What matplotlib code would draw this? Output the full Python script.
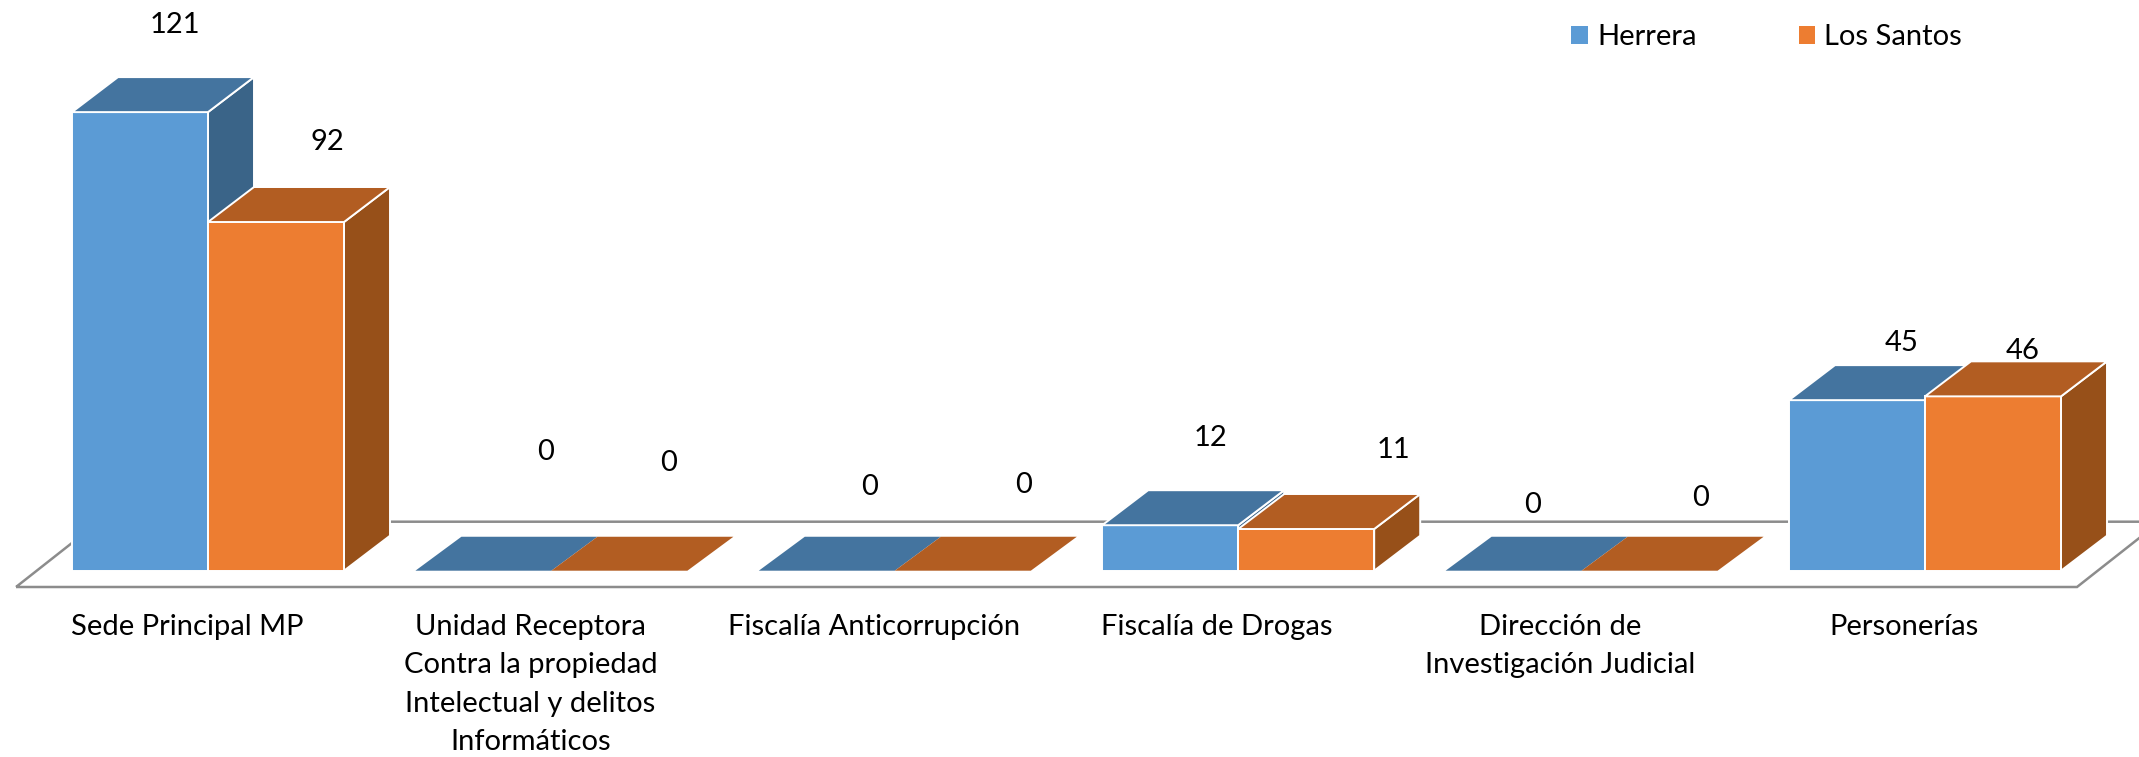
#!/usr/bin/env python3

import matplotlib
matplotlib.use('Agg')
import matplotlib.pyplot as plt
from matplotlib.patches import Patch, Polygon

categories = ['Sede Principal MP',
              'Unidad Receptora\nContra la propiedad\nIntelectual y delitos\nInformáticos',
              'Fiscalía Anticorrupción',
              'Fiscalía de Drogas',
              'Dirección de\nInvestigación Judicial',
              'Personerías']
herrera = [121, 0, 0, 12, 0, 45]
los_santos = [92, 0, 0, 11, 0, 46]

W, H = 2139, 757
STEP = 343.4        # px per category
UNIT = 3.79         # px per value unit
X0, Y0 = 208, 570.7  # px position of category 0 / value 0

bar_w = 136 / STEP
depth_x = 46 / STEP
depth_y = 35 / UNIT

plt.rcParams['font.family'] = ['Lato', 'DejaVu Sans']
FS = 21

fig = plt.figure(figsize=(W / 100, H / 100), dpi=100)
ax = fig.add_axes([0, 0, 1, 1])
ax.set_xlim(-X0 / STEP, (W - X0) / STEP)
ax.set_ylim((Y0 - H) / UNIT, Y0 / UNIT)
ax.axis('off')

# floor
fl, fr = -192 / STEP, 1869 / STEP
fb, bk = -16.3 / UNIT, 49 / UNIT
ax.add_patch(Polygon([(fl, fb), (fr, fb), (fr + 83 / STEP, bk), (fl + 83 / STEP, bk)],
                     closed=True, fill=False, edgecolor='#8c8c8c', linewidth=1.8, zorder=1))


def box(x, v, front, top, side):
    edge = dict(edgecolor='white', linewidth=1.4, joinstyle='miter')
    if v > 0:
        ax.add_patch(Polygon([(x + bar_w, 0), (x + bar_w + depth_x, depth_y),
                              (x + bar_w + depth_x, v + depth_y), (x + bar_w, v)],
                             facecolor=side, zorder=2, **edge))
        ax.add_patch(Polygon([(x, 0), (x + bar_w, 0), (x + bar_w, v), (x, v)],
                             facecolor=front, zorder=2, **edge))
        ax.add_patch(Polygon([(x, v), (x + bar_w, v), (x + bar_w + depth_x, v + depth_y),
                              (x + depth_x, v + depth_y)], facecolor=top, zorder=2, **edge))
    else:
        # zero height, only the flat top shows
        ax.add_patch(Polygon([(x, 0), (x + bar_w, 0), (x + bar_w + depth_x, depth_y * 0.97),
                              (x + depth_x, depth_y * 0.97)], facecolor=top, edgecolor='none', zorder=2))


for i in range(len(categories)):
    box(i - bar_w, herrera[i], '#5b9bd5', '#44749f', '#3a6488')
    box(i, los_santos[i], '#ed7d31', '#b25d22', '#975019')

# data labels sit at odd offsets in the original, px from bar centre / top
off_h = [(35, 87), (62, 119), (43, 84), (40, 87), (19, 66), (45, 57)]
off_l = [(51, 80), (49, 108), (61, 86), (87, 79), (51, 73), (30, 45)]
for i in range(len(categories)):
    ax.annotate(str(herrera[i]), (i - bar_w / 2, herrera[i]), xytext=off_h[i],
                textcoords='offset pixels', ha='center', va='center', fontsize=FS, color='black')
    ax.annotate(str(los_santos[i]), (i + bar_w / 2, los_santos[i]), xytext=off_l[i],
                textcoords='offset pixels', ha='center', va='center', fontsize=FS, color='black')

# category labels
for i, name in enumerate(categories):
    ax.annotate(name, (i, 0), xytext=(-21, -43), textcoords='offset pixels',
                ha='center', va='top', fontsize=FS, color='black', linespacing=1.6)

handles = [Patch(facecolor='#5b9bd5', label='Herrera'), Patch(facecolor='#ed7d31', label='Los Santos')]
fig.legend(handles=handles, ncol=2, frameon=False, loc='center left',
           bbox_to_anchor=(1571 / W, 1 - 37 / H), fontsize=FS, handlelength=0.58, handleheight=0.58,
           handletextpad=0.31, columnspacing=3.5, borderpad=0, borderaxespad=0)

fig.savefig('out.png', dpi=100)
